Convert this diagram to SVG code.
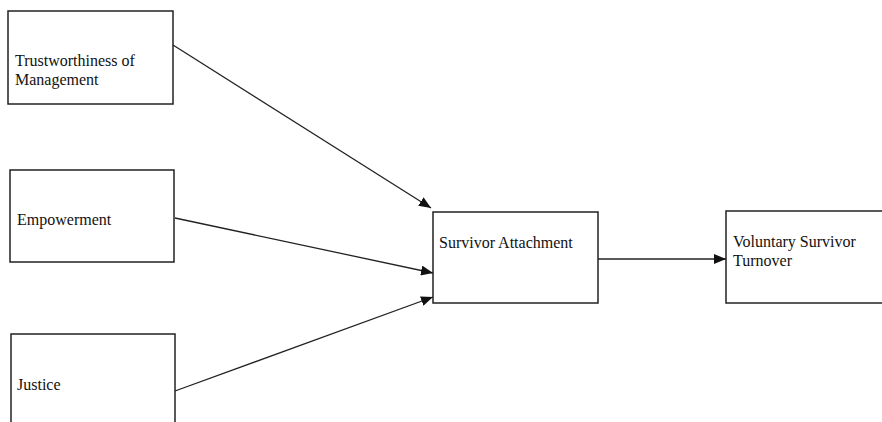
<svg xmlns="http://www.w3.org/2000/svg" width="882" height="422" viewBox="0 0 882 422">
<defs>
<marker id="arr" viewBox="0 0 12 10" refX="12" refY="5" markerWidth="12" markerHeight="10" markerUnits="userSpaceOnUse" orient="auto">
<path d="M0,0 L12,5 L0,10 Z" fill="#111"/>
</marker>
</defs>
<style>
.box{fill:#fff;stroke:#222;stroke-width:1.5}
.lbl{font-family:"Liberation Serif","Times New Roman",serif;font-size:16px;fill:#111}
.edge{fill:none;stroke:#222;stroke-width:1.3;marker-end:url(#arr)}
</style>
<rect width="882" height="422" fill="#fff"/>
<g id="connectors">
<line class="edge" x1="173" y1="45" x2="431" y2="208"/>
<line class="edge" x1="175" y1="218" x2="433" y2="273"/>
<line class="edge" x1="175" y1="391" x2="433" y2="297"/>
<line class="edge" x1="598" y1="259" x2="726" y2="259"/>
</g>
<g id="trust">
<rect class="box" x="8" y="11" width="165" height="93"/>
<text class="lbl" x="15" y="66">Trustworthiness of</text>
<text class="lbl" x="15" y="85">Management</text>
</g>
<g id="empower">
<rect class="box" x="10" y="170" width="164" height="92"/>
<text class="lbl" x="17" y="225">Empowerment</text>
</g>
<g id="justice">
<rect class="box" x="11" y="334" width="164" height="100"/>
<text class="lbl" x="17" y="390">Justice</text>
</g>
<g id="attachment">
<rect class="box" x="433" y="212" width="165" height="91"/>
<text class="lbl" x="439" y="248">Survivor Attachment</text>
</g>
<g id="turnover">
<rect class="box" x="726" y="211" width="170" height="92"/>
<text class="lbl" x="733" y="247">Voluntary Survivor</text>
<text class="lbl" x="733" y="266">Turnover</text>
</g>
</svg>
